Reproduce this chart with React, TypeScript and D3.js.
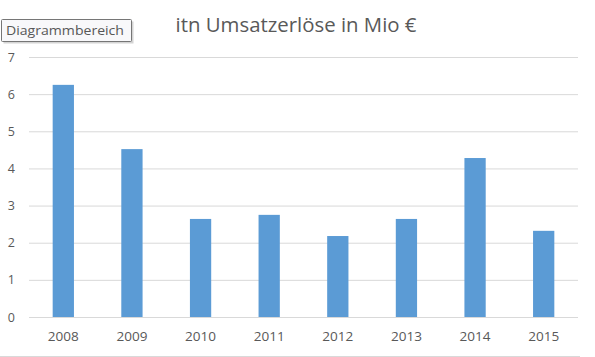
import React from "react";
import * as d3 from "d3";

const categories = ["2008", "2009", "2010", "2011", "2012", "2013", "2014", "2015"];
const values = [6.25, 4.52, 2.64, 2.75, 2.18, 2.64, 4.28, 2.32];
const yTicks = [0, 1, 2, 3, 4, 5, 6, 7];
const title = "itn Umsatzerlöse in Mio €";
const tooltipText = "Diagrammbereich";

export default function App() {
  const W = 595, H = 357;
  const left = 29, right = 578, top = 57, bottom = 317;
  const x = d3.scaleBand().domain(categories).range([left, right]).paddingInner(0.69).paddingOuter(0.345);
  const y = d3.scaleLinear().domain([0, 7]).range([bottom, top]);
  const font = "'Open Sans', 'Noto Sans', sans-serif";
  const textColor = "#595959";
  return (
    <svg width={W} height={H} style={{ position: "absolute", left: 0, top: 0, display: "block" }} fontFamily={font}>
      <rect x={0} y={0} width={W} height={H} fill="#ffffff" />
      {yTicks.map((t) => (
        <g key={t}>
          <line x1={left} x2={right} y1={y(t) + 0.5} y2={y(t) + 0.5} stroke="#D9D9D9" strokeWidth={1} />
          <text x={15} y={y(t) + 4.5} fontSize={12.5} fill={textColor} textAnchor="end">{t}</text>
        </g>
      ))}
      {categories.map((c, i) => (
        <rect key={c} x={x(c)} y={y(values[i])} width={x.bandwidth()} height={y(0) - y(values[i])} fill="#5B9BD5" />
      ))}
      {categories.map((c) => (
        <text key={c} x={(x(c) as number) + x.bandwidth() / 2} y={341} fontSize={12.5} fill={textColor} textAnchor="middle" textLength={31} lengthAdjust="spacingAndGlyphs">{c}</text>
      ))}
      <line x1={0} x2={580} y1={356.5} y2={356.5} stroke="#D9D9D9" strokeWidth={1} />
      <text x={296} y={32} fontSize={20} fill={textColor} textAnchor="middle" textLength={241} lengthAdjust="spacingAndGlyphs">{title}</text>
      <rect x={3.5} y={21.5} width={130} height={22} fill="#555" opacity={0.25} />
      <rect x={1.5} y={19.5} width={130} height={22} fill="#F8F8FA" stroke="#767676" strokeWidth={1} rx={1} />
      <text x={6} y={35} fontSize={12.5} fill="#575757" textLength={118} lengthAdjust="spacingAndGlyphs">{tooltipText}</text>
    </svg>
  );
}
